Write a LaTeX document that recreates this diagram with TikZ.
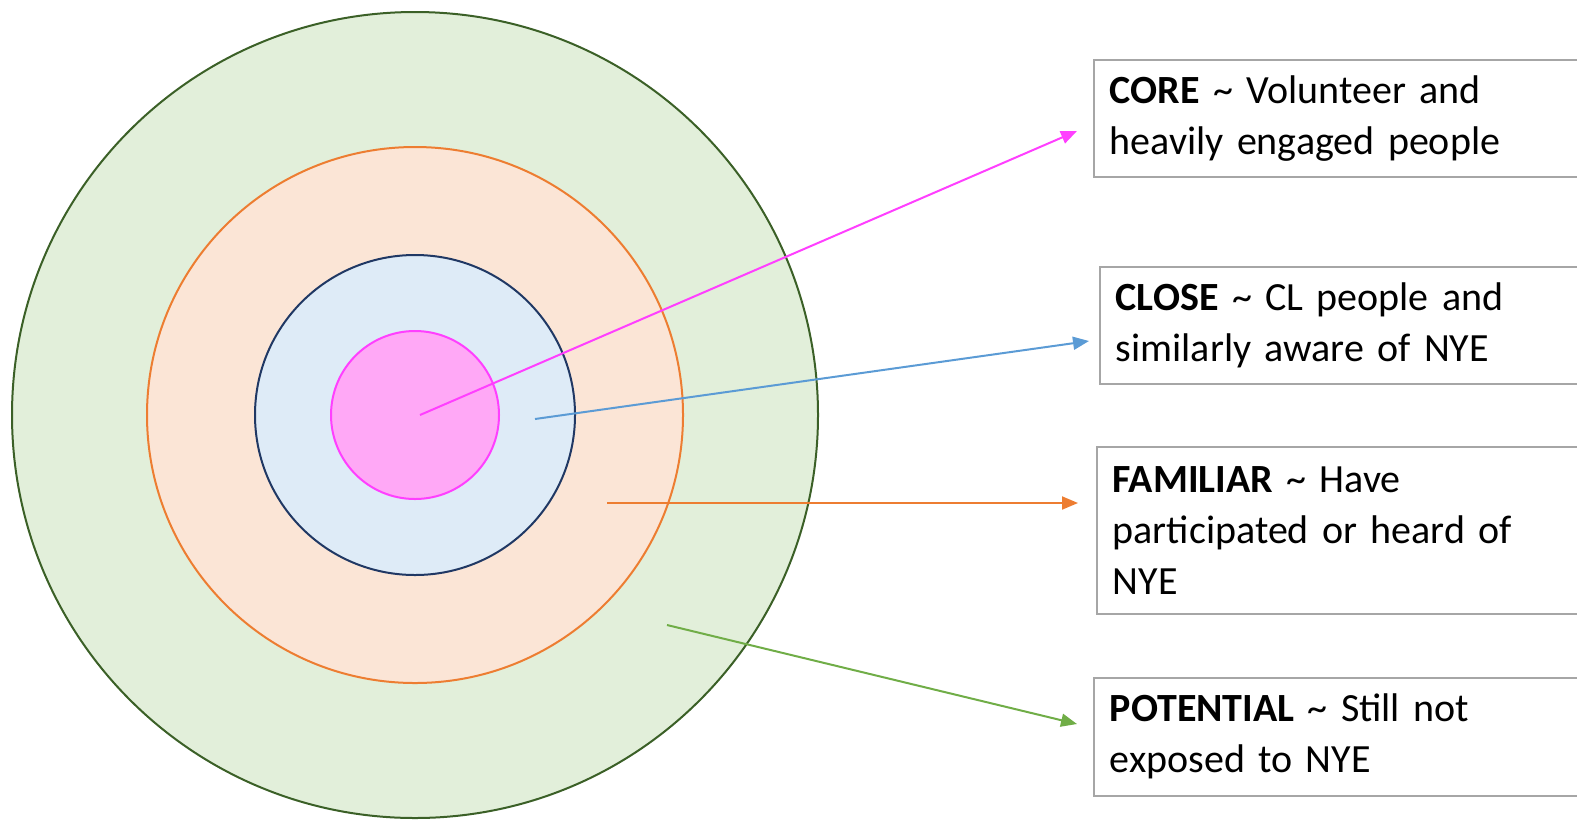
\documentclass[tikz,border=0pt]{standalone}
\usepackage{fontspec}
\setmainfont{Carlito}
\usetikzlibrary{arrows.meta}

\definecolor{potfill}{HTML}{E2EFDA}
\definecolor{potline}{HTML}{3B6027}
\definecolor{famfill}{HTML}{FBE5D6}
\definecolor{famline}{HTML}{ED7D31}
\definecolor{clofill}{HTML}{DEEBF7}
\definecolor{cloline}{HTML}{203864}
\definecolor{corefill}{HTML}{FFA8F6}
\definecolor{coreline}{HTML}{FF3FFF}
\definecolor{cloarrow}{HTML}{5B9BD5}
\definecolor{potarrow}{HTML}{70AD47}

\tikzset{
    ring/.style={line width=1pt},
    levelbox/.style={draw=black!35, line width=0.8pt, anchor=north west,
        text width=237pt, inner xsep=8pt, align=left,
        font=\fontsize{20}{25.5}\selectfont},
    pointer/.style={line width=1pt, -{Triangle[length=8pt,width=6.5pt]}}
}

\begin{document}
\begin{tikzpicture}[x=0.5pt, y=-0.5pt]
    \useasboundingbox (0,0) rectangle (1577,820);
    \clip (0,0) rectangle (1577,820);

    % the four rings
    \coordinate (mid) at (415,415);
    \draw[ring, draw=potline, fill=potfill] (mid) circle[radius=201.5pt];
    \draw[ring, draw=famline, fill=famfill] (mid) circle[radius=134pt];
    \draw[ring, draw=cloline, fill=clofill] (mid) circle[radius=80pt];
    \draw[ring, draw=coreline, fill=corefill] (mid) circle[radius=42pt];

    % labels
    \node[levelbox, minimum height=58.5pt] (core) at (1093,59)
        {\textbf{CORE} \textasciitilde{} Volunteer and\\heavily engaged people};
    \node[levelbox, minimum height=58.5pt] (close) at (1099,266)
        {\textbf{CLOSE} \textasciitilde{} CL people and\\similarly aware of NYE};
    \node[levelbox, minimum height=83.5pt] (familiar) at (1096,446)
        {\textbf{FAMILIAR} \textasciitilde{} Have\\participated or heard of\\NYE};
    \node[levelbox, minimum height=59pt] (potential) at (1093,677)
        {\textbf{POTENTIAL} \textasciitilde{} Still not\\exposed to NYE};

    % arrows
    \coordinate (coreA) at (420,415);
    \coordinate (coreB) at (1077,131);
    \coordinate (closeA) at (535,419);
    \coordinate (closeB) at (1089,341);
    \coordinate (famA) at (607,503);
    \coordinate (famB) at (1078,503);
    \coordinate (potA) at (667,625);
    \coordinate (potB) at (1077,724);
    \draw[pointer, coreline] (coreA) -- (coreB);
    \draw[pointer, cloarrow] (closeA) -- (closeB);
    \draw[pointer, famline] (famA) -- (famB);
    \draw[pointer, potarrow] (potA) -- (potB);
\end{tikzpicture}
\end{document}
